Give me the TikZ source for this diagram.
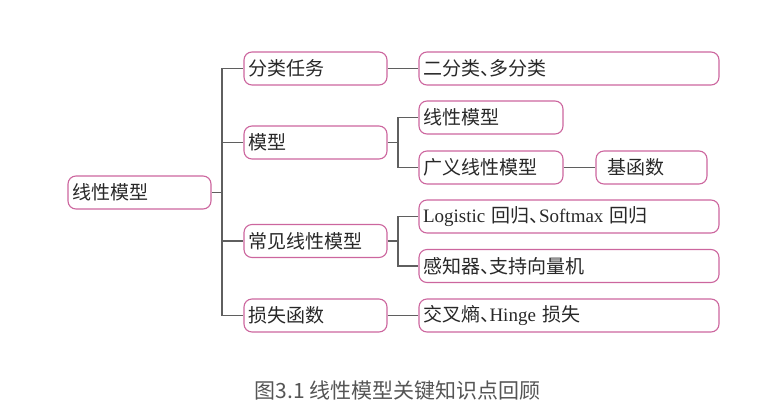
\documentclass[tikz,border=0pt]{standalone}
\usepackage{fontspec}
\setmainfont{Liberation Serif}
\newfontfamily\cjk{Noto Sans CJK SC}
\newcommand\zh[1]{{\cjk #1}}
\newcommand\dun{{\cjk 、}\hspace{-0.5em}}
\definecolor{boxpink}{RGB}{204,102,158}
\definecolor{linegray}{RGB}{95,95,95}
\definecolor{captiongray}{RGB}{85,85,85}
\definecolor{textdark}{RGB}{40,40,40}
\begin{document}
\begin{tikzpicture}[x=1pt,y=-1pt,
  box/.style={draw=boxpink, line width=1.1pt, rounded corners=8pt,
    minimum height=33pt, inner xsep=4pt, inner ysep=0pt,
    font=\fontsize{19}{21}\selectfont, text=textdark, align=left},
  w143/.style={text width=135pt},
  w300/.style={text width=292pt},
  link/.style={draw=linegray, line width=1.2pt}
  ]
\useasboundingbox (0,0) rectangle (771,413);
\node[box,w143] (root) at (139.5,192.5) {\zh{线性模型}};
\node[box,w143] (a) at (315.5,68.5) {\zh{分类任务}};
\node[box,w143] (b) at (315.5,142.5) {\zh{模型}};
\node[box,w143] (c) at (315.5,241) {\zh{常见线性模型}};
\node[box,w143] (d) at (315.5,315.5) {\zh{损失函数}};
\node[box,w300] (a2) at (569,68.5) {\zh{二分类}\dun\zh{多分类}};
\node[box,text width=136pt] (b1) at (491,117.5) {\zh{线性模型}};
\node[box,text width=136pt] (b2) at (491,167.5) {\zh{广义线性模型}};
\node[box,inner xsep=11pt,text width=89pt] (b3) at (651.5,167.5) {\zh{基函数}};
\node[box,w300] (c1) at (569,216.5) {Logistic \zh{回归}\dun Softmax \zh{回归}};
\node[box,w300] (c2) at (569,266) {\zh{感知器}\dun\zh{支持向量机}};
\node[box,w300] (d2) at (569,315.5) {\zh{交叉熵}\dun Hinge \zh{损失}};
\coordinate (t) at (222,192.5);
\coordinate (tb) at (398,142.5);
\coordinate (tc) at (398,241);
\draw[link] (root.east) -- (t);
\draw[link] (t) |- (a.west);
\draw[link] (t) |- (b.west);
\draw[link] (t) |- (c.west);
\draw[link] (t) |- (d.west);
\draw[link] (a.east) -- (a2.west);
\draw[link] (b.east) -- (tb);
\draw[link] (tb) |- (b1.west);
\draw[link] (tb) |- (b2.west);
\draw[link] (b2.east) -- (b3.west);
\draw[link] (c.east) -- (tc);
\draw[link] (tc) |- (c1.west);
\draw[link] (tc) |- (c2.west);
\draw[link] (d.east) -- (d2.west);
\node[font=\cjk\fontsize{21}{23}\selectfont, text=captiongray] (cap) at (397.5,391) {图3.1 线性模型关键知识点回顾};
\end{tikzpicture}
\end{document}
